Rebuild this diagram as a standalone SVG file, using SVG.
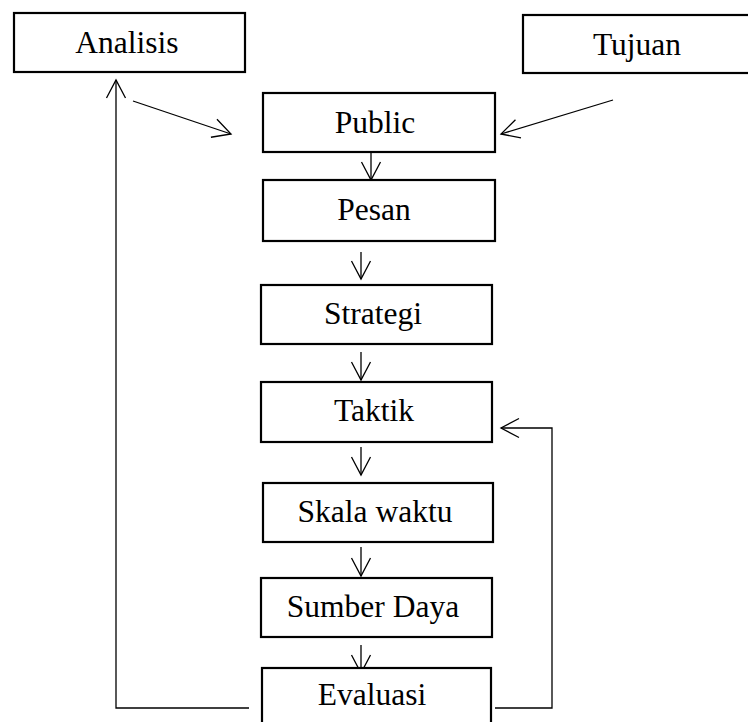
<svg xmlns="http://www.w3.org/2000/svg" width="748" height="722" viewBox="0 0 748 722">
<style>
.box{fill:#fff;stroke:#000;stroke-width:2.2}
.lbl{font-family:"Liberation Serif","Times New Roman",serif;font-size:31.5px;fill:#000;text-anchor:middle}
.con{fill:none;stroke:#000;stroke-width:1.3}
</style>
<defs>
<marker id="arr" markerUnits="userSpaceOnUse" markerWidth="24" markerHeight="24" viewBox="-20 -12 24 24" refX="0" refY="0" orient="auto" overflow="visible">
<path d="M-18,-9.5 L0,0 L-18,9.5" fill="none" stroke="#000" stroke-width="1.3"/>
</marker>
</defs>
<rect width="748" height="722" fill="#fff"/>
<g id="connectors">
<path class="con" d="M133,101 L231,134" marker-end="url(#arr)"/>
<path class="con" d="M613,100 L501,134" marker-end="url(#arr)"/>
<path class="con" d="M371,153 L371,180" marker-end="url(#arr)"/>
<path class="con" d="M361,252 L361,279" marker-end="url(#arr)"/>
<path class="con" d="M361,352 L361,380" marker-end="url(#arr)"/>
<path class="con" d="M361,447 L361,475" marker-end="url(#arr)"/>
<path class="con" d="M361,547 L361,576" marker-end="url(#arr)"/>
<path class="con" d="M361,645 L361,673" marker-end="url(#arr)"/>
<path class="con" d="M249,708 L116,708 L116,80" marker-end="url(#arr)"/>
<path class="con" d="M495,708 L552,708 L552,428 L501,428" marker-end="url(#arr)"/>
</g>
<g id="analisis"><rect class="box" x="14" y="13" width="231" height="59"/><text class="lbl" x="127" y="53">Analisis</text></g>
<g id="tujuan"><rect class="box" x="523" y="15" width="240" height="58"/><text class="lbl" x="637" y="55">Tujuan</text></g>
<g id="public"><rect class="box" x="263" y="93" width="232" height="59"/><text class="lbl" x="375" y="133">Public</text></g>
<g id="pesan"><rect class="box" x="263" y="180" width="232" height="61"/><text class="lbl" x="374" y="220">Pesan</text></g>
<g id="strategi"><rect class="box" x="261" y="285" width="231" height="59"/><text class="lbl" x="373" y="324">Strategi</text></g>
<g id="taktik"><rect class="box" x="261" y="382" width="231" height="60"/><text class="lbl" x="374" y="421">Taktik</text></g>
<g id="skala-waktu"><rect class="box" x="263" y="483" width="230" height="59"/><text class="lbl" x="375" y="522">Skala waktu</text></g>
<g id="sumber-daya"><rect class="box" x="261" y="578" width="231" height="59"/><text class="lbl" x="373" y="617">Sumber Daya</text></g>
<g id="evaluasi"><rect class="box" x="262" y="668" width="229" height="70"/><text class="lbl" x="372" y="705">Evaluasi</text></g>
</svg>
